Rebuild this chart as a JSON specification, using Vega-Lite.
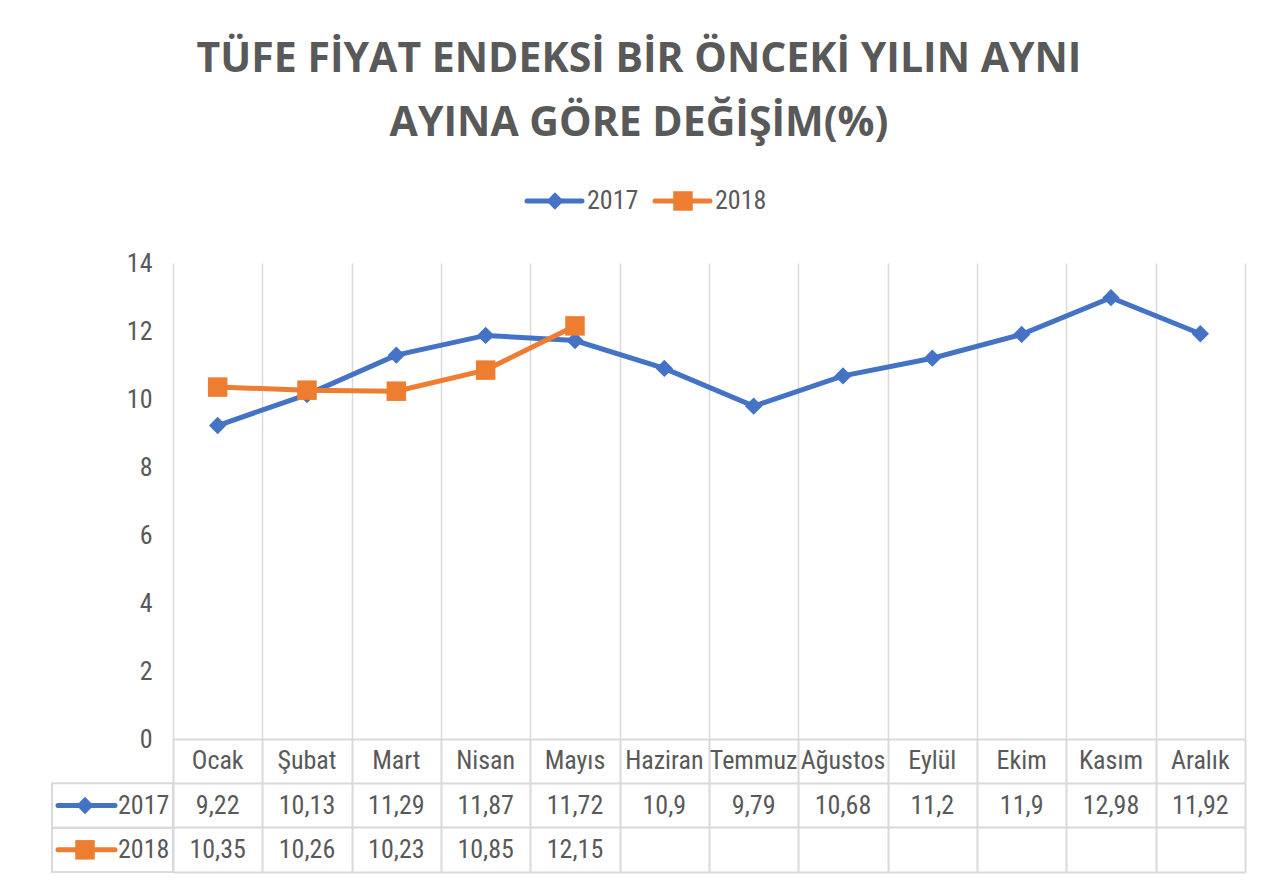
{
  "$schema": "https://vega.github.io/schema/vega-lite/v6.json",
  "padding": {"left": 51, "top": 38, "right": 20, "bottom": 5},
  "config": {
    "font": "Liberation Sans Narrow, Roboto Condensed, Liberation Sans, sans-serif",
    "view": {"stroke": null},
    "locale": {"number": {"decimal": ",", "thousands": ".", "grouping": [3], "currency": ["", " TL"]}}
  },
  "title": {
    "text": ["TÜFE FİYAT ENDEKSİ BİR ÖNCEKİ YILIN AYNI", "AYINA GÖRE DEĞİŞİM(%)"],
    "font": "Open Sans",
    "fontSize": 41,
    "fontWeight": "bold",
    "color": "#595959",
    "anchor": "middle",
    "frame": "bounds",
    "lineHeight": 64,
    "dx": -9,
    "offset": 43
  },
  "datasets": {
    "tufe": [
      {"month": "Ocak", "m": 1, "year": "2017", "value": 9.22},
      {"month": "Şubat", "m": 2, "year": "2017", "value": 10.13},
      {"month": "Mart", "m": 3, "year": "2017", "value": 11.29},
      {"month": "Nisan", "m": 4, "year": "2017", "value": 11.87},
      {"month": "Mayıs", "m": 5, "year": "2017", "value": 11.72},
      {"month": "Haziran", "m": 6, "year": "2017", "value": 10.9},
      {"month": "Temmuz", "m": 7, "year": "2017", "value": 9.79},
      {"month": "Ağustos", "m": 8, "year": "2017", "value": 10.68},
      {"month": "Eylül", "m": 9, "year": "2017", "value": 11.2},
      {"month": "Ekim", "m": 10, "year": "2017", "value": 11.9},
      {"month": "Kasım", "m": 11, "year": "2017", "value": 12.98},
      {"month": "Aralık", "m": 12, "year": "2017", "value": 11.92},
      {"month": "Ocak", "m": 1, "year": "2018", "value": 10.35},
      {"month": "Şubat", "m": 2, "year": "2018", "value": 10.26},
      {"month": "Mart", "m": 3, "year": "2018", "value": 10.23},
      {"month": "Nisan", "m": 4, "year": "2018", "value": 10.85},
      {"month": "Mayıs", "m": 5, "year": "2018", "value": 12.15}
    ]
  },
  "spacing": 0,
  "bounds": "flush",
  "vconcat": [
    {
      "width": 1072,
      "height": 476,
      "data": {"name": "tufe"},
      "encoding": {
        "x": {
          "field": "m", "type": "quantitative",
          "scale": {"domain": [0.5, 12.5], "nice": false, "zero": false},
          "axis": {"orient": "top", "values": [0.5, 1.5, 2.5, 3.5, 4.5, 5.5, 6.5, 7.5, 8.5, 9.5, 10.5, 11.5, 12.5], "grid": true, "gridColor": "#d9d9d9", "gridWidth": 1.5, "labels": false, "ticks": false, "domain": false, "title": null}
        },
        "y": {
          "field": "value", "type": "quantitative",
          "scale": {"domain": [0, 14], "nice": false},
          "axis": {"values": [0, 2, 4, 6, 8, 10, 12, 14], "grid": false, "domain": false, "ticks": false, "labelFontSize": 26, "labelColor": "#595959", "labelPadding": 21, "title": null}
        }
      },
      "layer": [
        {
          "mark": {"type": "line", "strokeWidth": 5},
          "encoding": {
            "color": {"field": "year", "type": "nominal", "scale": {"domain": ["2017", "2018"], "range": ["#4472C4", "#ED7D31"]}, "legend": null}
          }
        },
        {
          "transform": [{"filter": "datum.year == '2017'"}],
          "mark": {"type": "point", "shape": "diamond", "filled": true, "opacity": 1, "size": 300, "color": "#4472C4"}
        },
        {
          "transform": [{"filter": "datum.year == '2018'"}],
          "mark": {"type": "point", "shape": "square", "filled": true, "opacity": 1, "size": 380, "color": "#ED7D31"}
        },
        {
          "transform": [{"filter": "datum.m == 1 && datum.year == '2017'"}],
          "mark": {"type": "rule", "strokeWidth": 5, "strokeCap": "round", "color": "#4472C4"},
          "encoding": {
            "x": {"datum": 4.463, "type": "quantitative"},
            "x2": {"datum": 5.078},
            "y": {"datum": 15.824, "type": "quantitative"}
          }
        },
        {
          "transform": [{"filter": "datum.m == 1 && datum.year == '2018'"}],
          "mark": {"type": "rule", "strokeWidth": 5, "strokeCap": "round", "color": "#ED7D31"},
          "encoding": {
            "x": {"datum": 5.896, "type": "quantitative"},
            "x2": {"datum": 6.511},
            "y": {"datum": 15.824, "type": "quantitative"}
          }
        },
        {
          "transform": [{"filter": "datum.m == 1 && datum.year == '2017'"}],
          "mark": {"type": "point", "shape": "diamond", "filled": true, "opacity": 1, "size": 300, "color": "#4472C4"},
          "encoding": {
            "x": {"datum": 4.776, "type": "quantitative"},
            "y": {"datum": 15.824, "type": "quantitative"}
          }
        },
        {
          "transform": [{"filter": "datum.m == 1 && datum.year == '2018'"}],
          "mark": {"type": "point", "shape": "square", "filled": true, "opacity": 1, "size": 380, "color": "#ED7D31"},
          "encoding": {
            "x": {"datum": 6.209, "type": "quantitative"},
            "y": {"datum": 15.824, "type": "quantitative"}
          }
        },
        {
          "transform": [{"filter": "datum.m == 1 && datum.year == '2017'"}],
          "mark": {"type": "text", "align": "left", "fontSize": 26, "color": "#595959"},
          "encoding": {
            "x": {"datum": 5.134, "type": "quantitative"},
            "y": {"datum": 15.824, "type": "quantitative"},
            "text": {"field": "year", "type": "nominal"}
          }
        },
        {
          "transform": [{"filter": "datum.m == 1 && datum.year == '2018'"}],
          "mark": {"type": "text", "align": "left", "fontSize": 26, "color": "#595959"},
          "encoding": {
            "x": {"datum": 6.567, "type": "quantitative"},
            "y": {"datum": 15.824, "type": "quantitative"},
            "text": {"field": "year", "type": "nominal"}
          }
        }
      ]
    },
    {
      "width": 1072,
      "height": 133,
      "data": {"name": "tufe"},
      "encoding": {
        "x": {
          "field": "m", "type": "quantitative",
          "scale": {"domain": [0.5, 12.5], "nice": false, "zero": false},
          "axis": {"orient": "bottom", "values": [0.5, 1.5, 2.5, 3.5, 4.5, 5.5, 6.5, 7.5, 8.5, 9.5, 10.5, 11.5, 12.5], "grid": true, "gridColor": "#d9d9d9", "gridWidth": 2, "labels": false, "ticks": false, "domain": true, "domainColor": "#d9d9d9", "domainWidth": 2, "title": null}
        },
        "y": {
          "field": "year", "type": "nominal",
          "scale": {"domain": ["Ay", "2017", "2018"], "paddingInner": 0, "paddingOuter": 0},
          "axis": {"grid": true, "bandPosition": 0, "gridColor": "#d9d9d9", "gridWidth": 2, "labels": false, "ticks": false, "domain": false, "title": null}
        }
      },
      "layer": [
        {
          "transform": [{"filter": "datum.year == '2017'"}],
          "mark": {"type": "text", "fontSize": 26, "color": "#595959"},
          "encoding": {
            "y": {"datum": "Ay", "type": "nominal"},
            "text": {"field": "month", "type": "nominal"}
          }
        },
        {
          "mark": {"type": "text", "fontSize": 26, "color": "#595959"},
          "encoding": {
            "text": {"field": "value", "type": "quantitative", "format": "~g"}
          }
        },
        {
          "transform": [{"filter": "datum.m == 1"}],
          "mark": {"type": "rect", "fillOpacity": 0, "fill": "#ffffff", "stroke": "#d9d9d9", "strokeWidth": 2},
          "encoding": {
            "x": {"datum": -0.854, "type": "quantitative"},
            "x2": {"datum": 0.5}
          }
        },
        {
          "transform": [{"filter": "datum.m == 1"}],
          "mark": {"type": "rule", "strokeWidth": 5, "strokeCap": "round"},
          "encoding": {
            "x": {"datum": -0.787, "type": "quantitative"},
            "x2": {"datum": -0.149},
            "color": {"field": "year", "type": "nominal", "scale": {"domain": ["2017", "2018"], "range": ["#4472C4", "#ED7D31"]}, "legend": null}
          }
        },
        {
          "transform": [{"filter": "datum.m == 1 && datum.year == '2017'"}],
          "mark": {"type": "point", "shape": "diamond", "filled": true, "opacity": 1, "size": 300, "color": "#4472C4"},
          "encoding": {
            "x": {"datum": -0.485, "type": "quantitative"}
          }
        },
        {
          "transform": [{"filter": "datum.m == 1 && datum.year == '2018'"}],
          "mark": {"type": "point", "shape": "square", "filled": true, "opacity": 1, "size": 380, "color": "#ED7D31"},
          "encoding": {
            "x": {"datum": -0.485, "type": "quantitative"}
          }
        },
        {
          "transform": [{"filter": "datum.m == 1"}],
          "mark": {"type": "text", "align": "left", "fontSize": 26, "color": "#595959"},
          "encoding": {
            "x": {"datum": -0.116, "type": "quantitative"},
            "text": {"field": "year", "type": "nominal"}
          }
        }
      ]
    }
  ]
}
